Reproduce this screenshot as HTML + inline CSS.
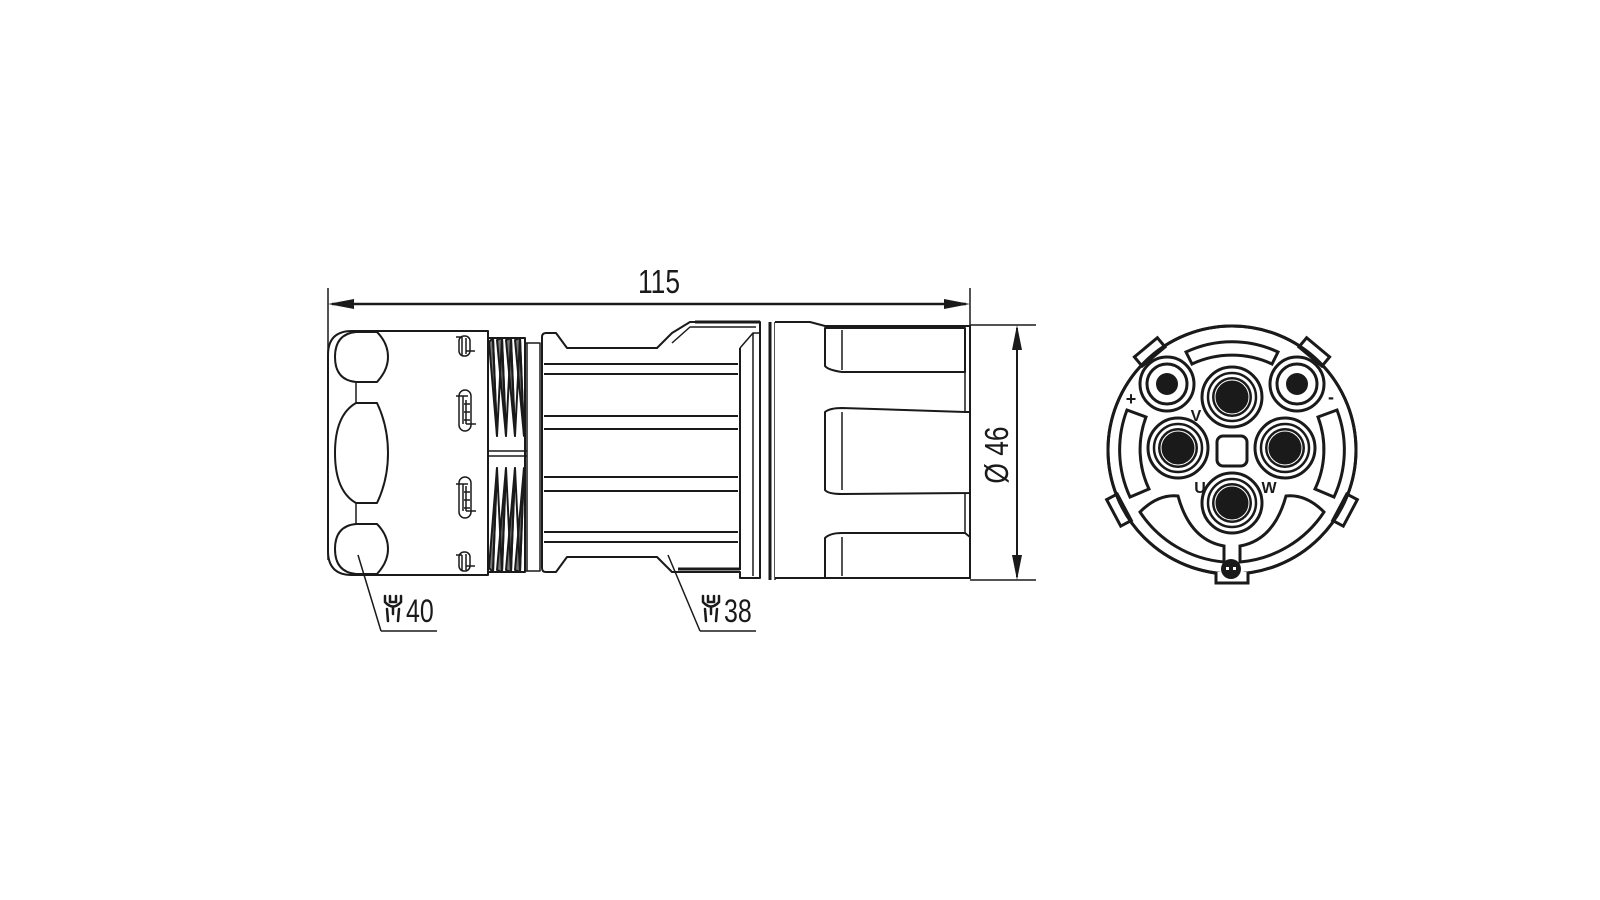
<!DOCTYPE html>
<html><head><meta charset="utf-8"><style>
html,body{margin:0;padding:0;background:#fff;width:1600px;height:900px;overflow:hidden}
svg{display:block}
text{font-family:"Liberation Sans",sans-serif;fill:#1a1a1a}
</style></head><body>
<svg width="1600" height="900" viewBox="0 0 1600 900" xmlns="http://www.w3.org/2000/svg">
<g stroke="#1a1a1a" fill="none" stroke-width="2" stroke-linejoin="round">
<line x1="328" y1="288" x2="328" y2="560" stroke-width="1.5"/>
<line x1="970" y1="288" x2="970" y2="326" stroke-width="1.5"/>
<line x1="332" y1="304" x2="966" y2="304" stroke-width="2.5"/>
<polygon points="328,304 354,299 354,309" fill="#1a1a1a" stroke="none"/>
<polygon points="970,304 944,299 944,309" fill="#1a1a1a" stroke="none"/>
<line x1="970" y1="325" x2="1036" y2="325" stroke-width="1.5"/>
<line x1="970" y1="580" x2="1036" y2="580" stroke-width="1.5"/>
<line x1="1017" y1="328" x2="1017" y2="577" stroke-width="2"/>
<polygon points="1017,325 1012,350 1022,350" fill="#1a1a1a" stroke="none"/>
<polygon points="1017,580 1012,555 1022,555" fill="#1a1a1a" stroke="none"/>

<path d="M352,331 L488,331 L488,575 L352,575 Q328,575 328,551 L328,355 Q328,331 352,331 Z"/>
<line x1="377" y1="331" x2="377" y2="382" stroke-width="1.5"/>
<line x1="377" y1="403" x2="377" y2="503" stroke-width="1.5"/>
<line x1="377" y1="524" x2="377" y2="575" stroke-width="1.5"/>
<line x1="356" y1="382" x2="356" y2="403" stroke-width="1.5"/>
<line x1="356" y1="503" x2="356" y2="524" stroke-width="1.5"/>
<path d="M377,332 L356,332 Q335,334 335,357 Q335,380 356,382 L377,382 Q388,370 388,357 Q388,343 377,332 Z" fill="#fff"/>
<path d="M377,403 L356,403 Q335,415 335,453 Q335,491 356,503 L377,503 Q388,480 388,453 Q388,426 377,403 Z" fill="#fff"/>
<path d="M377,524 L356,524 Q335,526 335,549 Q335,572 356,574 L377,574 Q388,562 388,549 Q388,535 377,524 Z" fill="#fff"/>
<line x1="358" y1="555" x2="381" y2="631" stroke-width="1.5"/>
<line x1="381" y1="631" x2="437" y2="631" stroke-width="1.5"/>
<g stroke-width="1.5">
<rect x="459" y="336" width="11" height="20" rx="5"/><line x1="456" y1="337" x2="462" y2="337"/><line x1="462" y1="337" x2="462" y2="355"/><line x1="466" y1="338" x2="466" y2="354"/><line x1="466" y1="351" x2="475" y2="351"/>
<rect x="459" y="390" width="12" height="41" rx="6"/><line x1="456" y1="396" x2="468" y2="396"/><line x1="463" y1="396" x2="463" y2="424"/><line x1="466" y1="400" x2="466" y2="424"/><line x1="464" y1="404" x2="470" y2="404"/><line x1="464" y1="412" x2="470" y2="412"/><line x1="464" y1="420" x2="470" y2="420"/><line x1="466" y1="424" x2="476" y2="424"/>
<rect x="459" y="477" width="12" height="41" rx="6"/><line x1="456" y1="484" x2="468" y2="484"/><line x1="463" y1="484" x2="463" y2="511"/><line x1="466" y1="486" x2="466" y2="511"/><line x1="464" y1="492" x2="470" y2="492"/><line x1="464" y1="500" x2="470" y2="500"/><line x1="464" y1="508" x2="470" y2="508"/><line x1="466" y1="511" x2="476" y2="511"/>
<rect x="459" y="552" width="11" height="19" rx="5"/><line x1="456" y1="555" x2="462" y2="555"/><line x1="462" y1="555" x2="462" y2="570"/><line x1="466" y1="554" x2="466" y2="570"/><line x1="466" y1="566" x2="475" y2="566"/>
</g>
<rect x="488" y="338" width="37" height="234" fill="#fff"/>
<g fill="#777" stroke-width="2">
<path d="M489,342 L493,338 L497,436 Z M497,340 L502,338 L506,436 Z M506,340 L511,338 L515,436 Z M515,340 L520,338 L524,436 Z"/>
<path d="M489,568 L493,572 L497,468 Z M497,570 L502,572 L506,468 Z M506,570 L511,572 L515,468 Z M515,570 L520,572 L524,468 Z"/>
<path d="M493,338 L497,436 L502,338 M502,338 L506,436 L511,338 M511,338 L515,436 L520,338 M520,338 L524,436" fill="none"/>
<path d="M493,572 L497,468 L502,572 M502,572 L506,468 L511,572 M511,572 L515,468 L520,572 M520,572 L524,468" fill="none"/>
</g>
<line x1="488" y1="451" x2="527" y2="451" stroke-width="1.5"/>
<line x1="488" y1="456" x2="527" y2="456" stroke-width="1.5"/>
<rect x="525" y="343" width="15" height="228" stroke-width="1.5"/>
<line x1="527" y1="343" x2="527" y2="571" stroke-width="1.5"/>

<path d="M542,337 Q542,333 546,333 L556,333 L567,348 L657,348 L672,333 L690,322 L760,322 L760,578 L740,578 L740,572 L672,572 L657,557 L567,557 L556,572 L546,572 Q542,572 542,568 Z" fill="#fff"/>
<path d="M672,343 L690,327 L756,327" stroke-width="1.5"/>
<line x1="695" y1="322" x2="760" y2="322" stroke-width="3"/>
<g stroke-width="2">
<line x1="544" y1="364" x2="738" y2="364"/><line x1="544" y1="374" x2="738" y2="374"/>
<line x1="544" y1="416" x2="738" y2="416"/><line x1="544" y1="429" x2="738" y2="429"/>
<line x1="544" y1="477" x2="738" y2="477"/><line x1="544" y1="491" x2="738" y2="491"/>
<line x1="544" y1="532" x2="738" y2="532"/><line x1="544" y1="542" x2="738" y2="542"/>
</g>
<line x1="678" y1="569" x2="740" y2="569" stroke-width="3"/>
<line x1="740" y1="348" x2="740" y2="570" stroke-width="2"/>
<path d="M740,348 L753,333 L760,333" stroke-width="1.5"/>
<line x1="753" y1="333" x2="753" y2="576" stroke-width="1.5"/>
<line x1="668" y1="555" x2="700" y2="631" stroke-width="1.5"/>
<line x1="700" y1="631" x2="756" y2="631" stroke-width="1.5"/>
<line x1="770" y1="322" x2="770" y2="580" stroke-width="3"/>
<line x1="775" y1="322" x2="775" y2="580" stroke-width="1.5"/>
<path d="M775,322 L810,322 L825,326 L970,326 L970,578 L775,578" fill="#fff"/>
<g stroke-width="2" fill="#fff">
<path d="M825,328 L965,328 L965,372 L842,372 Q828,370 825,366 Z"/>
<line x1="842" y1="330" x2="842" y2="370" stroke-width="1.5"/>
<path d="M842,408 L965,412 L970,412 L970,493 L842,494 Q828,494 825,490 L825,412 Q830,408 842,408 Z"/>
<line x1="842" y1="412" x2="842" y2="490" stroke-width="1.5"/>
<path d="M842,533 L965,533 L970,537 L970,578 L825,578 L825,538 Q830,533 842,533 Z"/>
<line x1="842" y1="537" x2="842" y2="576" stroke-width="1.5"/>
<line x1="965" y1="372" x2="965" y2="412" stroke-width="1.5"/>
<line x1="965" y1="494" x2="965" y2="533" stroke-width="1.5"/>
</g>
</g>

<text x="659" y="293" font-size="33" text-anchor="middle" transform="translate(659,0) scale(0.8,1) translate(-659,0)">115</text>
<text transform="translate(1008,455) rotate(-90) scale(0.8,1)" font-size="33" text-anchor="middle">Ø 46</text>
<text x="406" y="622" font-size="32" transform="translate(406,0) scale(0.78,1) translate(-406,0)">40</text>
<text x="724" y="622" font-size="32" transform="translate(724,0) scale(0.78,1) translate(-724,0)">38</text>
<g stroke="#1a1a1a" stroke-width="2.5" fill="none" stroke-linecap="round">
<path d="M385,596 L385,602 Q393,611 401,602 L401,596 M390,596 L390,602 L396,602 L396,596 M387,609 L388,621 M399,609 L398,621 M393,607 L393,614"/>
<path d="M703,596 L703,602 Q711,611 719,602 L719,596 M708,596 L708,602 L714,602 L714,596 M705,609 L706,621 M717,609 L716,621 M711,607 L711,614"/>
</g>

<g stroke="#1a1a1a" stroke-width="3" fill="none">
<circle cx="1232" cy="450" r="124" fill="#fff"/>
<g fill="#fff">
<rect x="1217" y="316" width="30" height="12" transform="rotate(-40 1232 450)"/>
<rect x="1217" y="316" width="30" height="12" transform="rotate(40 1232 450)"/>
<rect x="1217" y="316" width="30" height="12" transform="rotate(-118 1232 450)"/>
<rect x="1217" y="316" width="30" height="12" transform="rotate(118 1232 450)"/>
</g>
<circle cx="1232" cy="450" r="124"/>
<path d="M1216,572 L1216,583 L1248,583 L1248,572" fill="#fff"/>
<path d="M1186,352 A108 108 0 0 1 1278,352 L1272,364 A95 95 0 0 0 1192,364 Z"/>
<path d="M1127,410 A112 112 0 0 0 1130,497 L1149,489 A92 92 0 0 1 1146,417 Z"/>
<path d="M1337,410 A112 112 0 0 1 1334,497 L1315,489 A92 92 0 0 0 1318,417 Z"/>
<path d="M1140,512 A112 112 0 0 0 1224,562 L1224,546 Q1190,540 1178,496 Q1158,494 1140,512 Z"/>
<path d="M1324,512 A112 112 0 0 1 1240,562 L1240,546 Q1274,540 1286,496 Q1306,494 1324,512 Z"/>
<circle cx="1167" cy="384" r="27"/><circle cx="1167" cy="384" r="20"/>
<circle cx="1297" cy="384" r="27"/><circle cx="1297" cy="384" r="20"/>
<circle cx="1232" cy="397" r="30"/>
<circle cx="1178" cy="448" r="30"/>
<circle cx="1285" cy="448" r="30"/>
<circle cx="1232" cy="503" r="30"/>
<rect x="1217" y="436" width="30" height="30" rx="6"/>
</g>
<g stroke="#1a1a1a" stroke-width="2.5" fill="none">
<circle cx="1232" cy="397" r="24"/><circle cx="1178" cy="448" r="24"/>
<circle cx="1285" cy="448" r="24"/><circle cx="1232" cy="503" r="24"/>
</g>
<g fill="#1a1a1a">
<circle cx="1167" cy="384" r="11"/><circle cx="1297" cy="384" r="11"/>
<circle cx="1232" cy="397" r="20"/><circle cx="1178" cy="448" r="20"/>
<circle cx="1285" cy="448" r="20"/><circle cx="1232" cy="503" r="20"/>
<circle cx="1231" cy="569" r="10"/>
</g>
<g stroke="#fff" stroke-width="1" fill="none">
<circle cx="1232" cy="397" r="17"/><circle cx="1178" cy="448" r="17"/>
<circle cx="1285" cy="448" r="17"/><circle cx="1232" cy="503" r="17"/>
</g>
<rect x="1226" y="567" width="3" height="3" fill="#fff"/><rect x="1233" y="567" width="3" height="3" fill="#fff"/>
<text x="1131" y="405" font-size="18" font-weight="bold" text-anchor="middle">+</text>
<text x="1331" y="403" font-size="18" font-weight="bold" text-anchor="middle">-</text>
<text x="1196" y="421" font-size="16" font-weight="bold" text-anchor="middle">V</text>
<text x="1200" y="493" font-size="16" font-weight="bold" text-anchor="middle">U</text>
<text x="1269" y="493" font-size="16" font-weight="bold" text-anchor="middle">W</text>
</svg>
</body></html>
